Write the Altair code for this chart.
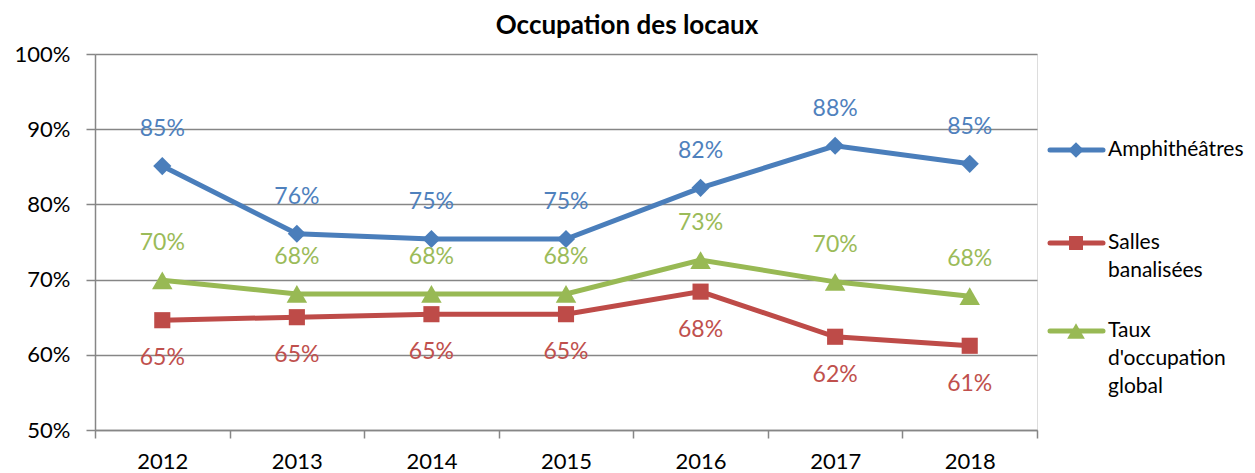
import altair as alt
import pandas as pd

years = ["2012", "2013", "2014", "2015", "2016", "2017", "2018"]
amphi = [0.851, 0.761, 0.754, 0.754, 0.822, 0.878, 0.854]
salles = [0.646, 0.650, 0.654, 0.654, 0.684, 0.624, 0.612]
taux = [0.699, 0.681, 0.681, 0.681, 0.726, 0.697, 0.678]

series_names = ["Amphithéâtres", "Salles banalisées", "Taux d'occupation global"]
legend_text = ["Amphithéâtres", "Salles\nbanalisées", "Taux\nd'occupation\nglobal"]
line_colors = ["#4A7EBB", "#BE4B48", "#98B954"]
label_colors = ["#4F81BD", "#C0504D", "#9BBB59"]
shapes = ["diamond", "square", "triangle-up"]
sizes = [330, 260, 420]
label_dy = [-37, 38, -37]
legend_y = [96, 189, 277]

FONT = "Lato"

frames = []
for name, vals in zip(series_names, [amphi, salles, taux]):
    frames.append(pd.DataFrame({"year": years, "value": vals, "series": name}))
df = pd.concat(frames, ignore_index=True)

x_enc = alt.X(
    "year:O",
    scale=alt.Scale(type="band", paddingInner=0, paddingOuter=0),
    axis=alt.Axis(
        title=None, labelAngle=0, labelFont=FONT, labelFontSize=22, labelColor="#000000",
        domainColor="#868686", domainWidth=1.5, tickColor="#868686", tickWidth=1.5,
        tickSize=8, tickBand="extent", labelPadding=13, grid=False,
    ),
)
y_enc = alt.Y(
    "value:Q",
    scale=alt.Scale(domain=[0.5, 1.0], nice=False, zero=False),
    axis=alt.Axis(
        title=None, format=".0%", values=[0.5, 0.6, 0.7, 0.8, 0.9, 1.0],
        labelFont=FONT, labelFontSize=22, labelColor="#000000", labelPadding=16,
        domainColor="#868686", domainWidth=1.5, tickColor="#868686", tickWidth=1.5,
        tickSize=9, gridColor="#868686", gridWidth=1.5,
    ),
)

layers = []
for i, name in enumerate(series_names):
    base = alt.Chart(df).transform_filter(alt.datum.series == name)
    layers.append(base.mark_line(color=line_colors[i], strokeWidth=5).encode(x=x_enc, y=y_enc))
    layers.append(
        base.mark_point(shape=shapes[i], size=sizes[i], filled=True, opacity=1, color=line_colors[i])
        .encode(x=x_enc, y=y_enc)
    )
    layers.append(
        base.mark_text(font=FONT, fontSize=23, color=label_colors[i], dy=label_dy[i], baseline="middle")
        .encode(x=x_enc, y=y_enc, text=alt.Text("value:Q", format=".0%"))
    )

# manual legend
leg_df = pd.DataFrame({"series": series_names, "label": legend_text})
for i, name in enumerate(series_names):
    lb = alt.Chart(leg_df).transform_filter(alt.datum.series == name)
    layers.append(
        lb.mark_rule(color=line_colors[i], strokeWidth=5, strokeCap="round")
        .encode(x=alt.value(955), x2=alt.value(1008), y=alt.value(legend_y[i]))
    )
    layers.append(
        lb.mark_point(shape=shapes[i], size=sizes[i] * 0.75, filled=True, opacity=1, color=line_colors[i])
        .encode(x=alt.value(981), y=alt.value(legend_y[i]))
    )
    layers.append(
        lb.mark_text(font=FONT, fontSize=21, color="#000000", align="left", baseline="line-top",
                     lineBreak="\n", lineHeight=28)
        .encode(x=alt.value(1013), y=alt.value(legend_y[i] - 14), text="label:N")
    )

chart = (
    alt.layer(*layers)
    .properties(
        width=942,
        height=376,
        autosize=alt.AutoSizeParams(type="none"),
        padding={"left": 87, "top": 46, "right": 210, "bottom": 45},
        title=alt.TitleParams(
            "Occupation des locaux", font=FONT, fontSize=26, fontWeight="bold",
            color="#000000", dx=61, offset=4,
        ),
    )
    .configure_view(stroke=None)
    .configure(background="white")
)

chart.save("out.html", embed_options={"renderer": "svg", "actions": False})
